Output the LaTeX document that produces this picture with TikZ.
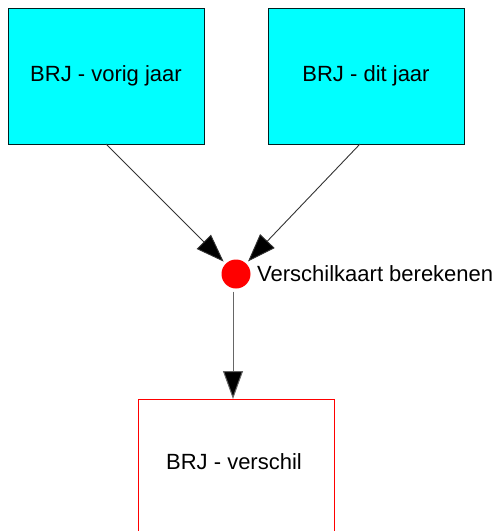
\documentclass[tikz,border=0pt]{standalone}
\usepackage{fontspec}
\setmainfont{Liberation Sans}
\usetikzlibrary{arrows.meta}
\definecolor{boxcyan}{RGB}{0,255,255}
\definecolor{boxedge}{RGB}{0,32,32}
\definecolor{procred}{RGB}{255,0,0}
\begin{document}
\begin{tikzpicture}[x=1pt,y=-1pt,
  srcbox/.style={draw=boxedge, fill=boxcyan, line width=1pt, minimum width=196pt, minimum height=136pt, inner sep=0pt, outer sep=0pt, font=\fontsize{22}{26}\selectfont},
  dstbox/.style={draw=procred, fill=white, line width=1pt, minimum width=196pt, minimum height=136pt, inner sep=0pt, outer sep=0pt, font=\fontsize{22}{26}\selectfont},
  proc/.style={circle, fill=procred, minimum size=29pt, inner sep=0pt, outer sep=3pt},
  lbl/.style={font=\fontsize{22}{26}\selectfont, inner sep=0pt, anchor=west},
  conn/.style={black!80, line width=0.9pt, -{Triangle[length=28pt,width=20pt,fill=black]}}
]
\useasboundingbox (0,0) rectangle (502,531);
\clip (0,0) rectangle (502,531);
\node[srcbox] (a) at (106,76) {BRJ - vorig jaar};
\node[srcbox] (b) at (366,76) {BRJ - dit jaar};
\node[proc] (c) at (236,274) {};
\node[lbl] (cl) at (257,274) {Verschilkaart berekenen};
\node[dstbox] (d) at (236,467) {};
\node[font=\fontsize{22}{26}\selectfont, inner sep=0pt] (dl) at (234,462) {BRJ - verschil};
\draw[conn] (a.south) -- (c);
\draw[conn] ([xshift=-6pt]b.south) -- (c);
\coordinate (dt) at ([xshift=-3pt]d.north);
\draw[conn, black!60, line width=1pt] (c.south -| dt) -- (dt);
\end{tikzpicture}
\end{document}
